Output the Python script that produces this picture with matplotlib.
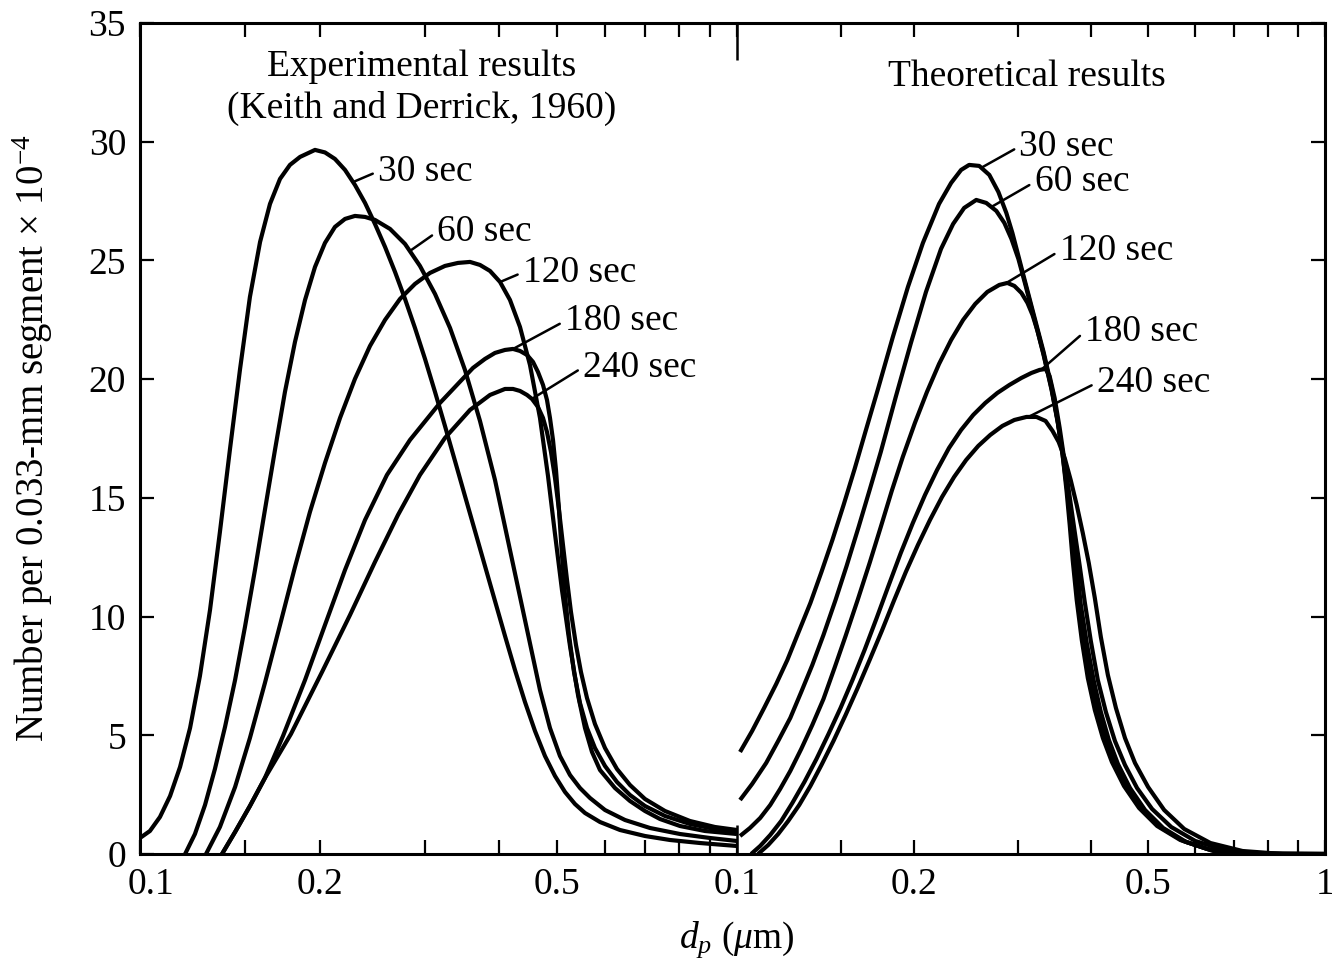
import matplotlib
matplotlib.use("Agg")
import matplotlib.pyplot as plt
from matplotlib.ticker import FixedLocator, FixedFormatter, NullFormatter
from matplotlib.transforms import ScaledTranslation

plt.rcParams["font.family"] = ["Liberation Serif", "DejaVu Serif"]
plt.rcParams["mathtext.fontset"] = "custom"
plt.rcParams["mathtext.rm"] = "Liberation Serif"
plt.rcParams["mathtext.it"] = "Liberation Serif:italic"
plt.rcParams["mathtext.bf"] = "Liberation Serif:bold"

# ---------------- data: particle diameter (um) vs number per segment (x1e-4)
time_labels = ["30 sec", "60 sec", "120 sec", "180 sec", "240 sec"]

# Experimental results (Keith and Derrick, 1960)
exp30_d = [0.1000, 0.1039, 0.1080, 0.1123, 0.1167, 0.1213, 0.1260, 0.1310, 0.1361, 0.1415,
           0.1471, 0.1528, 0.1589, 0.1651, 0.1716, 0.1783, 0.1854, 0.1964, 0.2041, 0.2121,
           0.2205, 0.2291, 0.2382, 0.2475, 0.2573, 0.2674, 0.2779, 0.2888, 0.3002, 0.3120,
           0.3242, 0.3370, 0.3502, 0.3640, 0.3783, 0.3932, 0.4087, 0.4247, 0.4414, 0.4588,
           0.4768, 0.4956, 0.5151, 0.5353, 0.5564, 0.5895, 0.6368, 0.7012, 0.7722, 0.8669,
           1.0]
exp30_n = [0.674, 0.969, 1.559, 2.443, 3.665, 5.307, 7.498, 10.278, 13.564, 17.060,
           20.430, 23.463, 25.779, 27.380, 28.433, 29.023, 29.360, 29.655, 29.549, 29.275,
           28.812, 28.180, 27.422, 26.537, 25.569, 24.516, 23.378, 22.157, 20.851, 19.461,
           18.029, 16.554, 15.080, 13.606, 12.131, 10.657, 9.183, 7.751, 6.403, 5.181,
           4.128, 3.286, 2.612, 2.106, 1.727, 1.348, 1.011, 0.758, 0.590, 0.463,
           0.337]

exp60_d = [0.1190, 0.1236, 0.1285, 0.1335, 0.1388, 0.1443, 0.1499, 0.1558, 0.1619, 0.1683,
           0.1749, 0.1818, 0.1890, 0.1964, 0.2041, 0.2121, 0.2205, 0.2291, 0.2382, 0.2475,
           0.2623, 0.2779, 0.2944, 0.3120, 0.3306, 0.3502, 0.3711, 0.3932, 0.4166, 0.4414,
           0.4677, 0.4861, 0.5052, 0.5251, 0.5457, 0.5672, 0.6010, 0.6492, 0.7149, 0.8026,
           0.9010, 1.0]
exp60_n = [0.0, 0.842, 2.064, 3.580, 5.350, 7.329, 9.562, 11.963, 14.490, 17.018,
           19.461, 21.567, 23.336, 24.726, 25.737, 26.411, 26.748, 26.874, 26.832, 26.706,
           26.327, 25.695, 24.768, 23.589, 22.157, 20.388, 18.239, 15.754, 12.805, 9.857,
           6.908, 5.307, 4.128, 3.328, 2.780, 2.359, 1.853, 1.432, 1.095, 0.842,
           0.674, 0.548]

exp120_d = [0.1290, 0.1361, 0.1443, 0.1528, 0.1619, 0.1716, 0.1818, 0.1926, 0.2041, 0.2163,
            0.2291, 0.2428, 0.2573, 0.2726, 0.2888, 0.3060, 0.3242, 0.3409, 0.3571, 0.3711,
            0.3857, 0.4009, 0.4166, 0.4330, 0.4500, 0.4677, 0.4824, 0.4956, 0.5091, 0.5251,
            0.5416, 0.5564, 0.5716, 0.5895, 0.6246, 0.6618, 0.7012, 0.7430, 0.8026, 0.8838,
            1.0]
exp120_n = [0.0, 1.137, 2.822, 4.886, 7.203, 9.646, 12.089, 14.406, 16.470, 18.366,
            20.008, 21.398, 22.494, 23.378, 24.010, 24.473, 24.768, 24.895, 24.937, 24.810,
            24.558, 24.094, 23.336, 22.199, 20.598, 18.366, 15.923, 13.479, 11.120, 8.762,
            6.698, 5.307, 4.297, 3.538, 2.780, 2.233, 1.811, 1.474, 1.179, 0.969,
            0.842]

exp180_d = [0.1372, 0.1443, 0.1528, 0.1619, 0.1736, 0.1890, 0.2041, 0.2205, 0.2382, 0.2592,
            0.2833, 0.3180, 0.3612, 0.3783, 0.3932, 0.4087, 0.4215, 0.4330, 0.4449, 0.4553,
            0.4641, 0.4732, 0.4805, 0.4861, 0.4918, 0.4975, 0.5033, 0.5091, 0.5151, 0.5231,
            0.5333, 0.5457, 0.5607, 0.5782, 0.6010, 0.6294, 0.6618, 0.7012, 0.7575, 0.8341,
            0.9186, 1.0]
exp180_n = [0.0, 0.927, 2.022, 3.201, 4.971, 7.329, 9.646, 11.963, 14.069, 15.965,
            17.439, 18.997, 20.472, 20.851, 21.104, 21.230, 21.272, 21.188, 21.019, 20.725,
            20.303, 19.756, 19.124, 18.366, 17.439, 16.175, 14.490, 12.595, 10.910, 9.225,
            7.666, 6.361, 5.307, 4.465, 3.707, 3.033, 2.485, 2.022, 1.601, 1.264,
            1.053, 0.969]

exp240_d = [0.1372, 0.1443, 0.1528, 0.1619, 0.1790, 0.2018, 0.2248, 0.2475, 0.2705, 0.2944,
            0.3242, 0.3571, 0.3857, 0.4087, 0.4215, 0.4330, 0.4449, 0.4535, 0.4641, 0.4732,
            0.4805, 0.4880, 0.4956, 0.5033, 0.5111, 0.5191, 0.5271, 0.5374, 0.5478, 0.5607,
            0.5782, 0.6010, 0.6294, 0.6618, 0.7012, 0.7575, 0.8341, 0.9186, 1.0]
exp240_n = [0.0, 0.927, 2.022, 3.201, 5.055, 7.666, 10.067, 12.300, 14.280, 15.965,
            17.523, 18.703, 19.334, 19.587, 19.587, 19.503, 19.334, 19.166, 18.829, 18.366,
            17.776, 16.933, 15.838, 14.490, 13.016, 11.542, 10.194, 8.804, 7.666, 6.571,
            5.476, 4.465, 3.580, 2.906, 2.317, 1.811, 1.390, 1.137, 1.011]

# Theoretical results
th30_d = [0.1012, 0.1061, 0.1112, 0.1166, 0.1218, 0.1271, 0.1333, 0.1392, 0.1453, 0.1518,
          0.1585, 0.1655, 0.1735, 0.1841, 0.1953, 0.2071, 0.2206, 0.2313, 0.2405, 0.2482,
          0.2582, 0.2686, 0.2783, 0.2871, 0.2940, 0.3010, 0.3094, 0.3168, 0.3244, 0.3322,
          0.3428, 0.3510, 0.3580, 0.3636, 0.3680, 0.3723, 0.3782, 0.3858, 0.3950, 0.4060,
          0.4190, 0.4341, 0.4551, 0.4828, 0.5182, 0.5673, 0.6309, 0.7241, 1.0]
th30_n = [4.297, 5.181, 6.150, 7.161, 8.172, 9.309, 10.573, 11.879, 13.227, 14.701,
          16.217, 17.818, 19.545, 21.778, 23.884, 25.737, 27.380, 28.265, 28.812, 29.023,
          28.981, 28.602, 27.885, 27.001, 26.158, 25.190, 24.052, 23.083, 22.115, 21.146,
          19.671, 18.281, 16.807, 15.249, 13.858, 12.384, 10.699, 9.014, 7.414, 6.066,
          4.886, 3.875, 2.864, 1.938, 1.179, 0.590, 0.211, 0.042, 0.0]

th60_d = [0.1012, 0.1061, 0.1121, 0.1175, 0.1232, 0.1286, 0.1343, 0.1403, 0.1471, 0.1536,
          0.1610, 0.1681, 0.1756, 0.1862, 0.1976, 0.2096, 0.2223, 0.2331, 0.2434, 0.2552,
          0.2654, 0.2761, 0.2849, 0.2929, 0.3010, 0.3094, 0.3168, 0.3244, 0.3322, 0.3428,
          0.3510, 0.3580, 0.3651, 0.3694, 0.3753, 0.3812, 0.3903, 0.3997, 0.4108, 0.4240,
          0.4393, 0.4605, 0.4885, 0.5244, 0.5741, 0.6384, 0.7385, 1.0]
th60_n = [2.275, 2.949, 3.833, 4.760, 5.729, 6.824, 7.961, 9.225, 10.699, 12.131,
          13.774, 15.333, 16.933, 19.250, 21.525, 23.673, 25.484, 26.537, 27.211, 27.548,
          27.422, 27.085, 26.580, 25.906, 25.063, 23.968, 22.999, 22.030, 21.061, 19.587,
          18.239, 16.765, 15.164, 13.774, 12.300, 10.657, 8.972, 7.372, 6.024, 4.844,
          3.833, 2.822, 1.896, 1.137, 0.548, 0.168, 0.0, 0.0]

th120_d = [0.1012, 0.1052, 0.1095, 0.1139, 0.1184, 0.1232, 0.1286, 0.1343, 0.1403, 0.1465,
           0.1530, 0.1604, 0.1681, 0.1756, 0.1833, 0.1914, 0.2007, 0.2104, 0.2206, 0.2313,
           0.2424, 0.2542, 0.2665, 0.2793, 0.2883, 0.2963, 0.3046, 0.3119, 0.3181, 0.3244,
           0.3322, 0.3428, 0.3510, 0.3594, 0.3665, 0.3723, 0.3782, 0.3842, 0.3934, 0.4044,
           0.4157, 0.4290, 0.4445, 0.4660, 0.4943, 0.5306, 0.5809, 0.6460, 0.7532, 1.0]
th120_n = [0.758, 1.095, 1.516, 2.064, 2.738, 3.496, 4.423, 5.434, 6.529, 7.835,
           9.183, 10.699, 12.258, 13.774, 15.291, 16.723, 18.155, 19.461, 20.640, 21.651,
           22.494, 23.168, 23.673, 23.968, 24.052, 23.926, 23.631, 23.210, 22.704, 22.030,
           21.019, 19.545, 18.197, 16.681, 15.080, 13.648, 12.174, 10.531, 8.888, 7.287,
           5.981, 4.802, 3.791, 2.780, 1.853, 1.095, 0.505, 0.126, 0.0, 0.0]

th180_d = [0.1057, 0.1095, 0.1139, 0.1189, 0.1242, 0.1302, 0.1365, 0.1431, 0.1500, 0.1572,
           0.1648, 0.1728, 0.1812, 0.1899, 0.1991, 0.2088, 0.2189, 0.2294, 0.2405, 0.2522,
           0.2644, 0.2772, 0.2906, 0.3046, 0.3168, 0.3270, 0.3348, 0.3401, 0.3469, 0.3538,
           0.3608, 0.3680, 0.3753, 0.3827, 0.3903, 0.3997, 0.4108, 0.4240, 0.4393, 0.4569,
           0.4790, 0.5081, 0.5476, 0.6018, 0.6746, 0.7834, 1.0]
th180_n = [0.0, 0.337, 0.800, 1.390, 2.148, 3.033, 4.002, 5.055, 6.150, 7.329,
           8.593, 9.941, 11.331, 12.679, 13.943, 15.122, 16.175, 17.102, 17.860, 18.492,
           18.997, 19.419, 19.756, 20.051, 20.261, 20.388, 20.430, 20.135, 19.208, 17.944,
           16.512, 15.038, 13.564, 12.131, 10.615, 8.972, 7.329, 5.981, 4.760, 3.749,
           2.780, 1.896, 1.137, 0.548, 0.168, 0.0, 0.0]

th240_d = [0.1086, 0.1130, 0.1175, 0.1222, 0.1276, 0.1333, 0.1392, 0.1459, 0.1530, 0.1604,
           0.1681, 0.1763, 0.1848, 0.1937, 0.2031, 0.2129, 0.2232, 0.2340, 0.2453, 0.2572,
           0.2696, 0.2827, 0.2963, 0.3107, 0.3231, 0.3348, 0.3441, 0.3524, 0.3608, 0.3694,
           0.3782, 0.3873, 0.3965, 0.4060, 0.4157, 0.4273, 0.4410, 0.4569, 0.4752, 0.5002,
           0.5327, 0.5763, 0.6384, 0.7241, 0.8476, 1.0]
th240_n = [0.0, 0.379, 0.842, 1.390, 2.064, 2.864, 3.749, 4.760, 5.855, 6.992,
           8.172, 9.393, 10.657, 11.879, 13.016, 14.069, 15.038, 15.880, 16.596, 17.186,
           17.650, 18.029, 18.281, 18.408, 18.408, 18.239, 17.818, 17.355, 16.681, 15.754,
           14.701, 13.522, 12.258, 10.784, 9.141, 7.540, 6.150, 4.886, 3.833, 2.822,
           1.853, 1.053, 0.463, 0.126, 0.0, 0.0]

# axis ticks
x_major_left = [0.1, 0.2, 0.5]
x_major_left_labels = ["0.1", "0.2", "0.5"]
x_major_right = [0.1, 0.2, 0.5, 1.0]
x_major_right_labels = ["0.1", "0.2", "0.5", "1"]
x_minor = [0.15, 0.3, 0.4, 0.6, 0.7, 0.8, 0.9]
y_ticks = [0, 5, 10, 15, 20, 25, 30, 35]

# curve label placement: (tip on curve), (start of text)
exp_label_tips = [(0.2274, 28.3), (0.2833, 25.4), (0.4009, 24.09), (0.4215, 21.27), (0.4535, 19.17)]
exp_label_text = [(0.2505, 28.75), (0.3145, 26.2), (0.438, 24.5), (0.515, 22.45), (0.552, 20.5)]
th_label_tips = [(0.2602, 28.9), (0.2707, 27.25), (0.2871, 24.05), (0.3296, 20.41), (0.3131, 18.41)]
th_label_text = [(0.3022, 29.8), (0.3206, 28.3), (0.3537, 25.4), (0.3904, 22.0), (0.4093, 19.85)]

exp_curves = [(exp30_d, exp30_n), (exp60_d, exp60_n), (exp120_d, exp120_n),
              (exp180_d, exp180_n), (exp240_d, exp240_n)]
th_curves = [(th30_d, th30_n), (th60_d, th60_n), (th120_d, th120_n),
             (th180_d, th180_n), (th240_d, th240_n)]

# ---------------- figure
W, H = 1332, 963
fig = plt.figure(figsize=(W / 100, H / 100), dpi=100)
fig.patch.set_facecolor("white")

left_px, mid_px, right_px = 140, 737, 1325
top_px, bottom_px = 23, 854
ax_b = 1 - bottom_px / H
ax_h = (bottom_px - top_px) / H
ax1 = fig.add_axes([left_px / W, ax_b, (mid_px - left_px) / W, ax_h])
ax2 = fig.add_axes([mid_px / W, ax_b, (right_px - mid_px) / W, ax_h], sharey=ax1)

FS = 27
LW = 3.0

for ax in (ax1, ax2):
    ax.set_xscale("log")
    ax.set_xlim(0.1, 1.0)
    ax.set_ylim(0, 35)
    ax.xaxis.set_minor_locator(FixedLocator(x_minor))
    ax.xaxis.set_minor_formatter(NullFormatter())
    ax.tick_params(axis="x", which="both", direction="in", top=True, bottom=True,
                   length=10, width=1.6, pad=10, labelsize=FS)
    for s in ax.spines.values():
        s.set_linewidth(2.2)
    ax.set_facecolor("none")

ax1.xaxis.set_major_locator(FixedLocator(x_major_left))
ax1.xaxis.set_major_formatter(FixedFormatter(x_major_left_labels))
ax2.xaxis.set_major_locator(FixedLocator(x_major_right))
ax2.xaxis.set_major_formatter(FixedFormatter(x_major_right_labels))

ax1.spines["right"].set_visible(False)
ax2.spines["left"].set_visible(False)

ax1.set_yticks(y_ticks)
ax1.tick_params(axis="y", direction="in", left=True, right=False, length=10,
                width=1.6, pad=10, labelsize=FS)
ax2.tick_params(axis="y", direction="in", left=False, right=True, labelleft=False,
                labelright=False, length=10, width=1.6)

# nudge the corner "0.1" label to the right, clear of the y-axis "0"
first_lbl = ax1.xaxis.get_major_ticks()[0].label1
first_lbl.set_transform(first_lbl.get_transform()
                        + ScaledTranslation(11 / 100, 0, fig.dpi_scale_trans))

# long division ticks between the two panels
ax2.plot([0.1, 0.1], [0.0, 0.035], transform=ax2.get_xaxis_transform(),
         color="black", lw=1.8, clip_on=False, solid_capstyle="butt")
ax2.plot([0.1, 0.1], [0.955, 1.0], transform=ax2.get_xaxis_transform(),
         color="black", lw=1.8, clip_on=False, solid_capstyle="butt")

for d, n in exp_curves:
    ax1.plot(d, n, color="black", lw=LW, solid_capstyle="butt", solid_joinstyle="round")
for d, n in th_curves:
    ax2.plot(d, n, color="black", lw=LW, solid_capstyle="butt", solid_joinstyle="round")

arrow = dict(arrowstyle="-", lw=1.8, color="black", relpos=(0.0, 0.5),
             shrinkA=2, shrinkB=0)
for lab, tip, txt in zip(time_labels, exp_label_tips, exp_label_text):
    ax1.annotate(lab, xy=tip, xytext=txt, ha="left", va="center", fontsize=FS,
                 arrowprops=arrow)
for lab, tip, txt in zip(time_labels, th_label_tips, th_label_text):
    ax2.annotate(lab, xy=tip, xytext=txt, ha="left", va="center", fontsize=FS,
                 arrowprops=arrow)

fig.text(422 / W, 1 - 67 / H, "Experimental results", ha="center", va="center", fontsize=FS)
fig.text(422 / W, 1 - 108 / H, "(Keith and Derrick, 1960)", ha="center", va="center", fontsize=FS)
fig.text(1027 / W, 1 - 77 / H, "Theoretical results", ha="center", va="center", fontsize=FS)

ax1.set_ylabel(r"Number per 0.033-mm segment × 10$^{-4}$", fontsize=28)
ax1.yaxis.set_label_coords(-0.142, 0.5)

fig.text(mid_px / W, 1 - 940 / H, r"$d_p$ ($\mu$m)", ha="center", va="center", fontsize=FS)

fig.savefig("out.png", dpi=100, facecolor="white")
